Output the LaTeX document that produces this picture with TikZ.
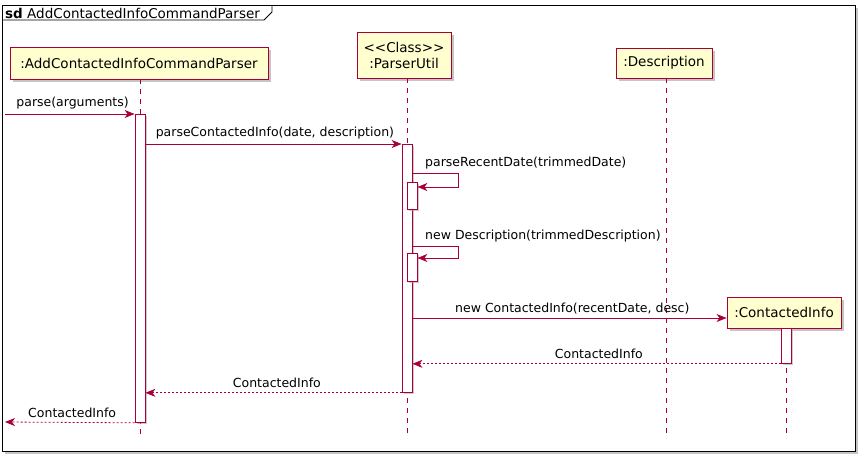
\documentclass[tikz,border=0pt]{standalone}
\usepackage{fontspec}
\setmainfont{DejaVu Sans}
\usetikzlibrary{arrows.meta,shadows}
\definecolor{umlred}{HTML}{A80036}
\definecolor{umlfill}{HTML}{FEFECE}
\begin{document}
\begin{tikzpicture}[x=1pt,y=-1pt,
    partbox/.style={draw=umlred,fill=umlfill,line width=0.9pt,inner sep=0pt,align=center,
      font=\fontsize{13.5}{16}\selectfont,drop shadow={shadow xshift=3pt,shadow yshift=-3pt,fill=black!45}},
    actbar/.style={draw=umlred,fill=white,line width=0.8pt,inner sep=0pt,minimum width=10pt,anchor=north,
      drop shadow={shadow xshift=2pt,shadow yshift=-2pt,fill=black!40}},
    lifeline/.style={umlred,line width=0.8pt,dash pattern=on 5pt off 5pt},
    msg/.style={umlred,line width=0.8pt,-{Stealth[length=10pt,width=8pt,inset=3pt]}},
    ret/.style={msg,dash pattern=on 2pt off 2pt},
    lbl/.style={text=black,font=\fontsize{12.5}{14}\selectfont,inner sep=0pt}]
  \useasboundingbox (0,0) rectangle (866,462);

  % frame
  \draw[line width=0.9pt,fill=white,drop shadow={shadow xshift=3pt,shadow yshift=-3pt,fill=black!45}]
    (2,5) rectangle (855,451);
  \draw[line width=0.9pt] (2,20) -- (264,20) -- (272,12) -- (272,5);
  \node[anchor=west,inner sep=0pt,font=\fontsize{13.5}{16}\selectfont] (title) at (5,13)
    {\textbf{sd} AddContactedInfoCommandParser};

  % participants
  \node[partbox,minimum width=258pt,minimum height=32pt] (parser) at (139,63) {:AddContactedInfoCommandParser};
  \node[partbox,minimum width=94pt,minimum height=46pt] (util) at (404,55) {{<}{<}Class{>}{>}\\:ParserUtil};
  \node[partbox,minimum width=96pt,minimum height=30pt] (desc) at (664,63) {:Description};

  % lifelines
  \draw[lifeline] (140,79) -- (140,438);
  \draw[lifeline] (407,78) -- (407,438);
  \draw[lifeline] (666,78) -- (666,438);
  \draw[lifeline] (786,328) -- (786,438);

  \node[partbox,minimum width=114pt,minimum height=31pt] (info) at (784,312.5) {:ContactedInfo};

  % activations
  \node[actbar,minimum height=308pt] (actA) at (140,114) {};
  \node[actbar,minimum height=248pt] (actB) at (407,144) {};
  \node[actbar,minimum height=27pt] (actB1) at (412,182) {};
  \node[actbar,minimum height=28pt] (actB2) at (412,253) {};
  \node[actbar,minimum height=35pt] (actD) at (786,328) {};

  \coordinate (start) at (5,114);
  \coordinate (finish) at (5,422);

  % messages
  \draw[msg] (start) -- (actA.north west)
    node[lbl,pos=0,anchor=south west,xshift=11pt,yshift=4pt] (m1) {parse(arguments)};
  \draw[msg] (actA.east |- actB.north) -- (actB.north west)
    node[lbl,pos=0,anchor=south west,xshift=10pt,yshift=4pt] (m2) {parseContactedInfo(date, description)};
  \draw[msg] (actB.east |- 0,173) -- (458,173) -- (458,187) -- (actB1.east |- 0,187);
  \node[lbl,anchor=south west] (m3) at (425,169) {parseRecentDate(trimmedDate)};
  \draw[msg] (actB.east |- 0,246) -- (458,246) -- (458,258) -- (actB2.east |- 0,258);
  \node[lbl,anchor=south west] (m4) at (425,242) {new Description(trimmedDescription)};
  \draw[msg] (actB.east |- 0,318) -- (info.west |- 0,318);
  \node[lbl,anchor=south west] (m5) at (455,314) {new ContactedInfo(recentDate, desc)};

  % returns
  \draw[ret] (actD.south west) -- (actB.east |- actD.south);
  \node[lbl,anchor=south east] (r1) at (643,359) {ContactedInfo};
  \draw[ret] (actB.south west) -- (actA.east |- actB.south);
  \node[lbl,anchor=south east] (r2) at (321,388) {ContactedInfo};
  \draw[ret] (actA.south west) -- (finish);
  \node[lbl,anchor=south west] (r3) at (28,418) {ContactedInfo};
\end{tikzpicture}
\end{document}
